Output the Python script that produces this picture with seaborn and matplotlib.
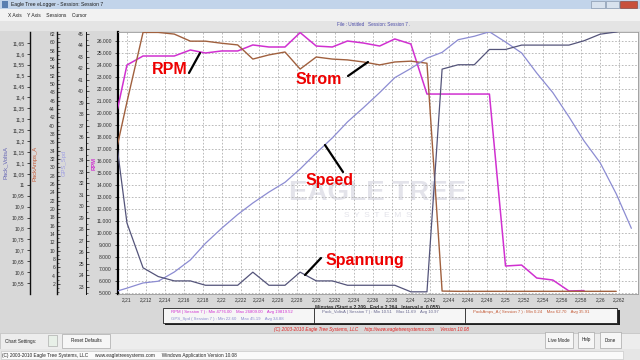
import numpy as np
import pandas as pd
import seaborn as sns
import matplotlib.pyplot as plt
from matplotlib.patches import Rectangle
from matplotlib.lines import Line2D
from matplotlib.ticker import FixedLocator, FuncFormatter, MultipleLocator

sns.set_style("white")
plt.rcParams['font.family'] = ['Liberation Sans', 'DejaVu Sans']

# Zeit in Minuten (ca. 0,1 s Raster)
minutes = [2.2090, 2.2100, 2.2117, 2.2133, 2.2150, 2.2167, 2.2183, 2.2200, 2.2217, 2.2233,
           2.2250, 2.2267, 2.2283, 2.2300, 2.2317, 2.2333, 2.2350, 2.2367, 2.2383, 2.2400,
           2.2417, 2.2433, 2.2450, 2.2467, 2.2483, 2.2500, 2.2517, 2.2533, 2.2550, 2.2567,
           2.2583, 2.2600, 2.2617, 2.2633]

rpm = [20330, 24000, 24750, 24750, 24750, 25250, 25000, 25170, 25170, 25670,
       25500, 25500, 26700, 25580, 25500, 26000, 25830, 25580, 26170, 25750,
       21580, 21580, 21580, 21580, 21580, 7250, 7330, 6250, 6080, 5170, 5200]

amps = [35.4, 45.7, 62.4, 62.4, 62.0, 60.3, 60.3, 59.8, 59.4, 56.0,
        57.0, 57.7, 53.6, 56.5, 56.0, 55.8, 55.3, 54.6, 55.3, 55.5,
        55.0, 0.3, 0.24, 0.24, 0.24, 0.24, 0.24, 0.24, 0.24, 0.24,
        0.24, 0.24, 0.24]

speed = [22.65, 22.9, 23.35, 23.5, 24.3, 25.35, 26.8, 28.1, 29.3, 30.3,
         31.25, 32.1, 33.26, 34.65, 35.96, 37.35, 38.6, 39.9, 41.2, 42.0,
         42.9, 43.4, 44.5, 44.8, 45.19, 44.3, 43.35, 41.6, 39.9, 37.8,
         35.7, 33.8, 31.1, 28.1]

volts = [11.16, 10.825, 10.62, 10.58, 10.56, 10.56, 10.54, 10.54, 10.54, 10.60,
         10.54, 10.54, 10.60, 10.56, 10.56, 10.54, 10.54, 10.54, 10.54, 10.51,
         10.51, 11.53, 11.55, 11.55, 11.62, 11.62, 11.64, 11.64, 11.64, 11.64,
         11.66, 11.69, 11.70, 11.72]

c_rpm = '#d030d0'
c_amps = '#a0603e'
c_spd = '#8c8cd2'
c_volt = '#54547a'
c_label_volt = '#6464b4'
c_label_amps = '#c45a36'
c_label_spd = '#a0a0e4'

fig = plt.figure(figsize=(6.4, 3.6), dpi=100, facecolor='#d8d8d8')


def fx(x):
    return x / 640


def fy(y):
    return 1 - y / 360


def box(x0, y0, x1, y1, fc, ec='none', lw=0.6, z=-1):
    fig.add_artist(Rectangle((fx(x0), fy(y1)), (x1 - x0) / 640, (y1 - y0) / 360,
                             transform=fig.transFigure, facecolor=fc, edgecolor=ec,
                             lw=lw, zorder=z))


def txt(x, y, s, size=3.6, color='#202020', ha='left', **kw):
    fig.text(fx(x), fy(y), s, fontsize=size, color=color, ha=ha, va='center', **kw)


# Fensterrahmen
box(0, 0, 640, 9, '#c2d4ea')
box(2, 1.5, 8, 7.5, '#5a7fb0')
txt(11, 4.6, 'Eagle Tree eLogger - Session: Session 7', 3.6, '#1a1a1a')
box(591, 1, 605, 8, '#d8e2ee', '#7a8aa0', 0.4, 2)
box(606, 1, 619, 8, '#d8e2ee', '#7a8aa0', 0.4, 2)
box(620, 1, 637, 8, '#c8503c', '#7a3a30', 0.4, 2)
box(0, 9, 640, 21, '#f2f2f2')
txt(8, 15.5, 'X Axis    Y Axis    Sessions    Cursor', 3.5, '#202020')
box(0, 21, 640, 31, '#e4e4e4')
txt(337, 25, 'File : Untitled   Session: Session 7 .', 3.3, '#4a4aa8')

# unteres Panel
box(0, 333, 640, 349, '#ededed', '#b8b8b8', 0.4)
box(0, 349, 640, 360, '#e6e6e6')
box(1, 351, 623, 359, '#fafafa', '#c0c0c0', 0.4)
txt(5, 341, 'Chart Settings:', 3.3)
box(48, 335, 57, 346, '#e8f0e8', '#a0a0a0', 0.4, 2)
box(62, 334, 110, 348, '#f6f6f6', '#a8a8a8', 0.5, 2)
txt(86, 341, 'Reset Defaults', 3.3, ha='center', zorder=3)
for x0, x1, s in [(545, 573, 'Live Mode'), (578, 594, 'Help'), (600, 621, 'Done')]:
    box(x0, 332, x1, 348, '#f6f6f6', '#a8a8a8', 0.5, 2)
    txt((x0 + x1) / 2, 340, s, 3.3, ha='center', zorder=3)
txt(2, 355, '(C) 2003-2010 Eagle Tree Systems, LLC     www.eagletreesystems.com     '
    'Windows Application Version 10.08', 3.4, '#202020')

# Legende
box(165, 310, 620, 325, '#202020', z=1)
box(163, 308, 617, 323, '#f6f6f6', '#202020', 0.6, 2)
fig.add_artist(Line2D([fx(314), fx(314)], [fy(308), fy(323)], transform=fig.transFigure,
                      color='#202020', lw=0.6, zorder=3))
fig.add_artist(Line2D([fx(465), fx(465)], [fy(308), fy(323)], transform=fig.transFigure,
                      color='#202020', lw=0.6, zorder=3))
txt(171, 312, 'RPM ( Session 7 ) : Min 4776.00    Max 26809.00    Avg 19819.52', 3.1, c_rpm, zorder=4)
txt(171, 319, 'GPS_Spd ( Session 7 ) : Min 22.60    Max 45.19    Avg 34.88', 3.1, c_spd, zorder=4)
txt(322, 312, 'Pack_VoltsA ( Session 7 ) : Min 10.51    Max 11.69    Avg 10.97', 3.1, '#6a6a90', zorder=4)
txt(473, 312, 'PackAmps_A ( Session 7 ) : Min 0.24    Max 62.70    Avg 35.91', 3.1, c_label_amps, zorder=4)
txt(372, 329, '(C) 2003-2010 Eagle Tree Systems, LLC     http://www.eagletreesystems.com     Version 10.08',
    3.3, '#e02020', ha='center', style='italic')

# Diagramm
left, right, top, bottom = 117.5, 638, 32, 294
ax = fig.add_axes([fx(left), fy(bottom), (right - left) / 640, (bottom - top) / 360])
ax.set_facecolor('white')

ax_amps = ax.twinx()
ax_spd = ax.twinx()
ax_volt = ax.twinx()

# Wasserzeichen
ax.text(0.5, 0.385, 'EAGLE TREE', transform=ax.transAxes, fontsize=20, fontweight='bold',
        color='#e3e3ea', ha='center', va='center', zorder=0.5)
ax.text(0.5, 0.30, 'S  Y  S  T  E  M  S', transform=ax.transAxes, fontsize=6,
        color='#e3e3ea', ha='center', va='center', zorder=0.5)

df_rpm = pd.DataFrame({'min': minutes[:len(rpm)], 'val': rpm})
df_amps = pd.DataFrame({'min': minutes[:len(amps)], 'val': amps})
df_spd = pd.DataFrame({'min': minutes[:len(speed)], 'val': speed})
df_volt = pd.DataFrame({'min': minutes[:len(volts)], 'val': volts})

sns.lineplot(data=df_rpm, x='min', y='val', ax=ax, color=c_rpm, lw=1.1, estimator=None, zorder=3)
sns.lineplot(data=df_amps, x='min', y='val', ax=ax_amps, color=c_amps, lw=1.0, estimator=None)
sns.lineplot(data=df_spd, x='min', y='val', ax=ax_spd, color=c_spd, lw=0.9, estimator=None)
sns.lineplot(data=df_volt, x='min', y='val', ax=ax_volt, color=c_volt, lw=0.9, estimator=None)

ax.set_xlim(2.209, 2.264)
ax.set_ylim(4917, 26750)
ax_amps.set_ylim(-0.4, 62.5)
ax_spd.set_ylim(22.39, 45.17)
ax_volt.set_ylim(10.50, 11.70)


def comma(v, nd):
    s = f'{v:.{nd}f}'.rstrip('0').rstrip('.')
    return s.replace('.', ',')


xt = np.round(np.arange(2.21, 2.2625, 0.002), 3)
ax.xaxis.set_major_locator(FixedLocator(xt))
ax.xaxis.set_major_formatter(FuncFormatter(lambda v, p: comma(v, 3)))
ax.yaxis.set_major_locator(FixedLocator(np.arange(5000, 26001, 1000)))
ax.yaxis.set_major_formatter(FuncFormatter(lambda v, p: f'{int(round(v)):,}'.replace(',', '.')))
ax.grid(True, color='#b0b0b0', ls=(0, (2, 2)), lw=0.6)
ax.set_axisbelow(True)

ax_amps.yaxis.set_major_locator(FixedLocator(np.arange(2, 63, 2)))
ax_amps.yaxis.set_minor_locator(MultipleLocator(1))
ax_spd.yaxis.set_major_locator(FixedLocator(np.arange(23, 46, 1)))
ax_spd.yaxis.set_minor_locator(MultipleLocator(0.5))
ax_volt.yaxis.set_major_locator(FixedLocator(np.round(np.arange(10.55, 11.651, 0.05), 2)))
ax_volt.yaxis.set_major_formatter(FuncFormatter(lambda v, p: comma(v, 2)))

ax.set_xlabel('Minutes (Start = 2.209,  End = 2.264,  Interval =  0.055)', fontsize=3.5,
              color='#303030', labelpad=1.5, fontweight='bold')
ax.tick_params(axis='x', labelsize=3.5, colors='#303030', length=0, pad=2.5)
ax.tick_params(axis='y', labelsize=3.6, colors='#303030', length=2.5, width=0.6, pad=1.5)
for s in ['top', 'right', 'bottom']:
    ax.spines[s].set_color('#9a9a9a')
    ax.spines[s].set_linewidth(0.6)
ax.spines['left'].set_color('black')
ax.spines['left'].set_linewidth(1.6)

ax.set_ylabel('RPM', fontsize=4.2, color=c_rpm, fontweight='bold')
ax.yaxis.set_label_coords(-0.041, 0.5)

for a, pos, lab, col, dirn, lx in [
        (ax_amps, -0.116, 'PackAmps_A', c_label_amps, 'in', -0.153),
        (ax_spd, -0.0605, 'GPS_Spd', c_label_spd, 'in', -0.098),
        (ax_volt, -0.168, 'Pack_VoltsA', c_label_volt, 'out', -0.21)]:
    a.yaxis.set_ticks_position('left')
    a.yaxis.set_label_position('left')
    for s in ['top', 'right', 'bottom']:
        a.spines[s].set_visible(False)
    a.spines['left'].set_visible(True)
    a.spines['left'].set_position(('axes', pos))
    a.spines['left'].set_color('#101010')
    a.spines['left'].set_linewidth(1.0 if a is not ax_spd else 0.7)
    a.tick_params(axis='y', which='major', labelsize=3.6, colors='#303030', length=2.5,
                  width=0.6, pad=1.5, direction=dirn)
    a.tick_params(axis='y', which='minor', length=1.5, width=0.5, direction=dirn, colors='#303030')
    a.set_ylabel(lab, fontsize=4.2, color=col)
    a.yaxis.set_label_coords(lx, 0.5)
    a.set_xlabel('')

# Beschriftungen im Diagramm
notes = [('RPM', 170, 69, (189, 73), (200, 53)),
         ('Strom', 319, 79, (348, 76), (368, 62)),
         ('Speed', 330, 180, (343, 172), (325, 145)),
         ('Spannung', 365, 260, (305, 275), (321, 258))]
for s, tx, ty, p0, p1 in notes:
    fig.text(fx(tx), fy(ty), s, fontsize=11.5, fontweight='bold', color='#ee0000',
             ha='center', va='center', zorder=10)
    fig.add_artist(Line2D([fx(p0[0]), fx(p1[0])], [fy(p0[1]), fy(p1[1])],
                          transform=fig.transFigure, color='black', lw=1.6, zorder=10))

fig.savefig('out.png', dpi=100, facecolor=fig.get_facecolor())
